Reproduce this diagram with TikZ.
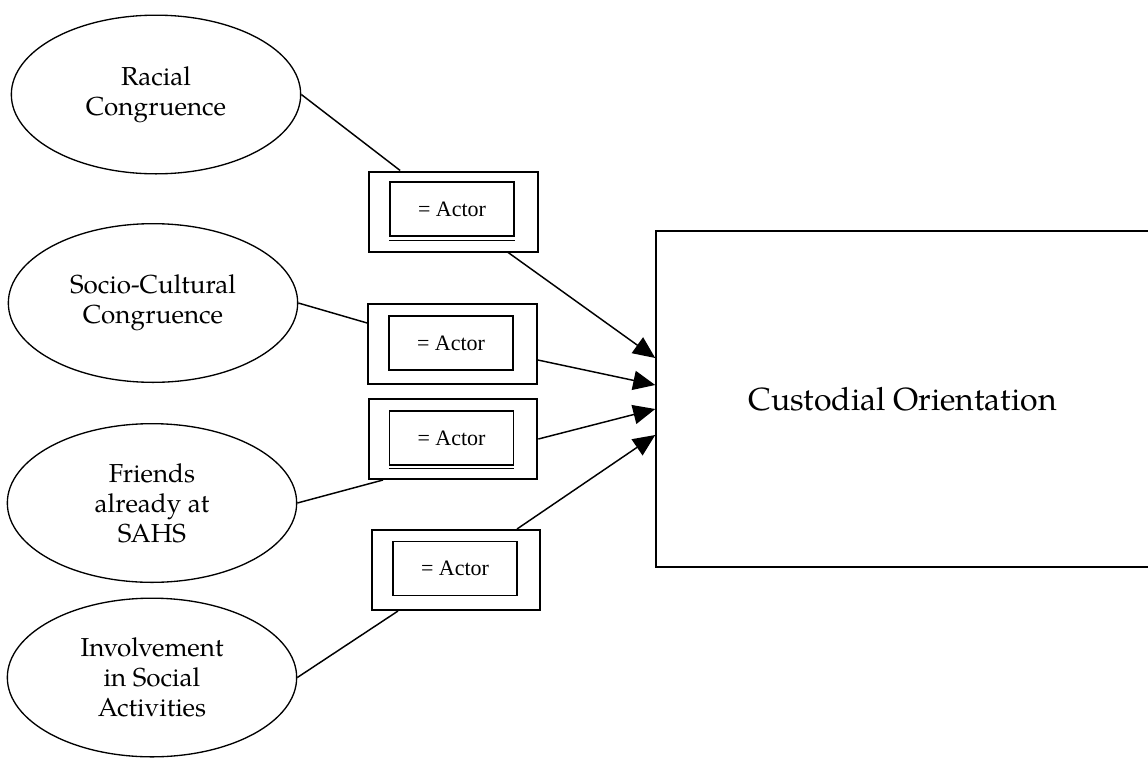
\documentclass[tikz,border=0pt]{standalone}
\usepackage{fontspec}
\setmainfont{TeX Gyre Pagella}
\newfontfamily\actorfont{Liberation Serif}
\usetikzlibrary{shapes.geometric,arrows.meta}

\tikzset{
  factor/.style={ellipse, draw, line width=1pt, inner sep=0pt,
    minimum width=217pt, minimum height=119pt, align=center,
    font=\fontsize{19.5}{22.5}\selectfont},
  outerbox/.style={rectangle, draw, line width=1.5pt, inner sep=0pt,
    minimum width=126.5pt, minimum height=60pt},
  actorbox/.style={rectangle, draw, line width=0.8pt, inner sep=0pt,
    minimum width=93pt, minimum height=40.5pt,
    font=\actorfont\fontsize{16.5}{20}\selectfont},
  outcome/.style={rectangle, draw, line width=1.3pt, inner sep=0pt,
    minimum width=370pt, minimum height=252pt,
    font=\fontsize{24}{29}\selectfont},
  link/.style={line width=1.1pt},
  influence/.style={line width=1.1pt, -{Triangle[length=16.5pt,width=14.5pt]}},
  underline/.style={line width=0.8pt}
}

\begin{document}
\begin{tikzpicture}[x=0.75pt, y=-0.75pt]
  \useasboundingbox (0,0) rectangle (1148,757);

  % predictors
  \node[factor] (e1) at (156,94.5) {Racial\\Congruence};
  \node[factor] (e2) at (153,303) {Socio-Cultural\\Congruence};
  \node[factor] (e3) at (152,503) {Friends\\already at\\SAHS};
  \node[factor] (e4) at (152,677.5) {Involvement\\in Social\\Activities};

  % actor frames
  \node[outerbox] (b1) at (453.5,211.5) {};
  \node[outerbox] (b2) at (452.5,344) {};
  \node[outerbox] (b3) at (453,439) {};
  \node[outerbox] (b4) at (456,570) {};

  \node[actorbox] (a1) at (452,209) {= Actor};
  \node[actorbox] (a2) at (451,343) {= Actor};
  \node[actorbox] (a3) at (451.5,438) {= Actor};
  \node[actorbox] (a4) at (455,568.5) {= Actor};

  % second rule under two of the actor boxes
  \draw[underline] ([yshift=-3pt]a1.south west) -- ([yshift=-3pt]a1.south east);
  \draw[underline] ([yshift=-2.5pt]a3.south west) -- ([yshift=-2.5pt]a3.south east);

  % outcome
  \node[outcome] (co) at (902.75,399) {Custodial Orientation};

  % predictor to actor
  \draw[link] (e1.east) -- ([xshift=-40pt]b1.north);
  \draw[link] (e2.east) -- ([yshift=15.75pt]b2.west);
  \draw[link] (e3.east) -- ([xshift=-52.5pt]b3.south);
  \draw[link] (e4.east) -- ([xshift=-43.5pt]b4.south);

  % actor to outcome
  \draw[influence] ([xshift=41pt]b1.south) -- ([yshift=30.75pt]co.west);
  \draw[influence] ([yshift=-12pt]b2.east) -- ([yshift=10.5pt]co.west);
  \draw[influence] (b3.east) -- ([yshift=-7.5pt]co.west);
  \draw[influence] ([xshift=45.75pt]b4.north) -- ([yshift=-27pt]co.west);
\end{tikzpicture}
\end{document}
